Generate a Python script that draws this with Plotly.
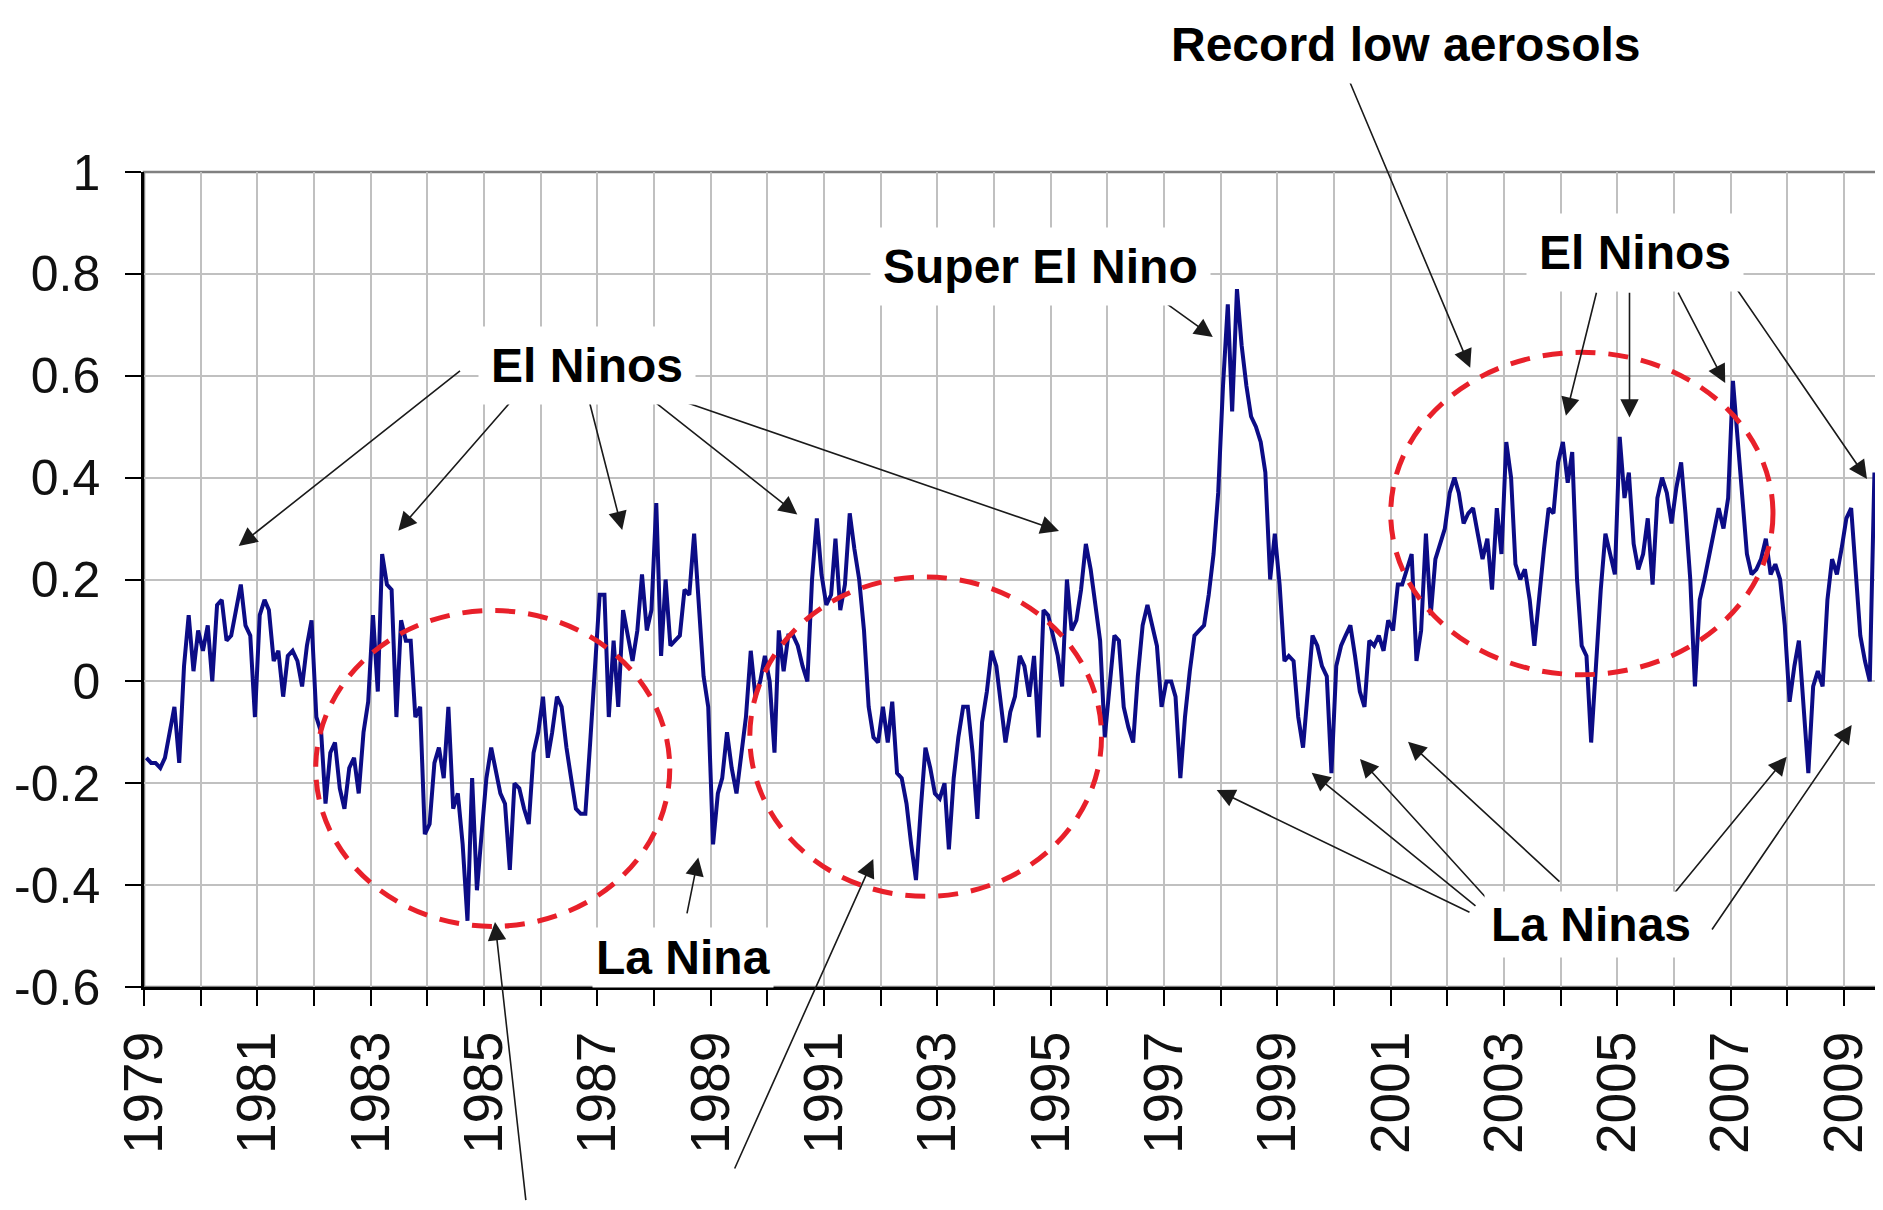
import plotly.graph_objects as go
import pandas as pd

# Monthly global lower-troposphere temperature anomalies (deg C)
y1979 = [-0.15, -0.16, -0.16, -0.17, -0.15, -0.10, -0.05, -0.16, 0.03, 0.13, 0.02, 0.10]
y1980 = [0.06, 0.11, 0.00, 0.15, 0.16, 0.08, 0.09, 0.14, 0.19, 0.11, 0.09, -0.07]
y1981 = [0.13, 0.16, 0.14, 0.04, 0.06, -0.03, 0.05, 0.06, 0.04, -0.01, 0.07, 0.12]
y1982 = [-0.07, -0.10, -0.24, -0.14, -0.12, -0.21, -0.25, -0.17, -0.15, -0.22, -0.10, -0.04]
y1983 = [0.13, -0.02, 0.25, 0.19, 0.18, -0.07, 0.12, 0.08, 0.08, -0.07, -0.05, -0.30]
y1984 = [-0.28, -0.16, -0.13, -0.19, -0.05, -0.25, -0.22, -0.32, -0.47, -0.19, -0.41, -0.30]
y1985 = [-0.19, -0.13, -0.17, -0.22, -0.24, -0.37, -0.20, -0.21, -0.25, -0.28, -0.14, -0.10]
y1986 = [-0.03, -0.15, -0.10, -0.03, -0.05, -0.13, -0.19, -0.25, -0.26, -0.26, -0.12, 0.02]
y1987 = [0.17, 0.17, -0.07, 0.08, -0.05, 0.14, 0.09, 0.04, 0.10, 0.21, 0.10, 0.14]
y1988 = [0.35, 0.05, 0.20, 0.07, 0.08, 0.09, 0.18, 0.17, 0.29, 0.15, 0.01, -0.05]
y1989 = [-0.32, -0.22, -0.19, -0.10, -0.17, -0.22, -0.15, -0.07, 0.06, -0.03, 0.00, 0.05]
y1990 = [0.00, -0.14, 0.10, 0.02, 0.09, 0.09, 0.07, 0.03, 0.00, 0.20, 0.32, 0.21]
y1991 = [0.15, 0.17, 0.28, 0.14, 0.19, 0.33, 0.26, 0.20, 0.10, -0.05, -0.11, -0.12]
y1992 = [-0.05, -0.12, -0.04, -0.18, -0.19, -0.24, -0.32, -0.39, -0.25, -0.13, -0.17, -0.22]
y1993 = [-0.23, -0.20, -0.33, -0.19, -0.11, -0.05, -0.05, -0.14, -0.27, -0.08, -0.02, 0.06]
y1994 = [0.03, -0.05, -0.12, -0.06, -0.03, 0.05, 0.03, -0.03, 0.05, -0.11, 0.14, 0.13]
y1995 = [0.09, 0.05, -0.01, 0.20, 0.10, 0.12, 0.18, 0.27, 0.22, 0.15, 0.08, -0.11]
y1996 = [0.00, 0.09, 0.08, -0.05, -0.09, -0.12, 0.01, 0.11, 0.15, 0.11, 0.07, -0.05]
y1997 = [0.00, 0.00, -0.03, -0.19, -0.07, 0.02, 0.09, 0.10, 0.11, 0.17, 0.25, 0.37]
y1998 = [0.58, 0.74, 0.53, 0.77, 0.66, 0.58, 0.52, 0.50, 0.47, 0.41, 0.20, 0.29]
y1999 = [0.19, 0.04, 0.05, 0.04, -0.07, -0.13, -0.03, 0.09, 0.07, 0.03, 0.01, -0.18]
y2000 = [0.03, 0.07, 0.09, 0.11, 0.05, -0.02, -0.05, 0.08, 0.07, 0.09, 0.06, 0.12]
y2001 = [0.10, 0.19, 0.19, 0.22, 0.25, 0.04, 0.10, 0.29, 0.13, 0.24, 0.27, 0.30]
y2002 = [0.37, 0.40, 0.37, 0.31, 0.33, 0.34, 0.29, 0.24, 0.28, 0.18, 0.34, 0.25]
y2003 = [0.47, 0.40, 0.23, 0.20, 0.22, 0.16, 0.07, 0.17, 0.26, 0.34, 0.33, 0.43]
y2004 = [0.47, 0.39, 0.45, 0.20, 0.07, 0.05, -0.12, 0.03, 0.18, 0.29, 0.25, 0.21]
y2005 = [0.48, 0.36, 0.41, 0.27, 0.22, 0.25, 0.32, 0.19, 0.36, 0.40, 0.37, 0.31]
y2006 = [0.38, 0.43, 0.33, 0.20, -0.01, 0.16, 0.20, 0.25, 0.29, 0.34, 0.30, 0.36]
y2007 = [0.59, 0.48, 0.38, 0.25, 0.21, 0.22, 0.24, 0.28, 0.21, 0.23, 0.20, 0.11]
y2008 = [-0.04, 0.03, 0.08, -0.04, -0.18, -0.01, 0.02, -0.01, 0.16, 0.24, 0.21, 0.26]
y2009 = [0.32, 0.34, 0.21, 0.09, 0.04, 0.00, 0.41]

all_years = [y1979, y1980, y1981, y1982, y1983, y1984, y1985, y1986, y1987, y1988,
             y1989, y1990, y1991, y1992, y1993, y1994, y1995, y1996, y1997, y1998,
             y1999, y2000, y2001, y2002, y2003, y2004, y2005, y2006, y2007, y2008, y2009]
values = [v for yr in all_years for v in yr]
dates = pd.date_range("1979-01-01", periods=len(values), freq="MS") + pd.Timedelta(days=15)

x_tick_labels = ["1979", "1981", "1983", "1985", "1987", "1989", "1991", "1993",
                 "1995", "1997", "1999", "2001", "2003", "2005", "2007", "2009"]
y_tick_values = [1, 0.8, 0.6, 0.4, 0.2, 0, -0.2, -0.4, -0.6]
y_tick_labels = ["1", "0.8", "0.6", "0.4", "0.2", "0", "-0.2", "-0.4", "-0.6"]

# Geometry: page body has an 8px margin, so the figure is offset by 8px
OFF = 8
W, H = 1883 - OFF, 1210 - OFF
L, T = 144 - OFF, 172 - OFF
PR, PB = 1878 - OFF, 987 - OFF
R, B = W - PR, H - PB
PW, PH = PR - L, PB - T


def px(x):
    return (x - OFF - L) / PW


def py(y):
    return (PB - (y - OFF)) / PH


FONT = "Liberation Sans, Arial, sans-serif"

fig = go.Figure()
fig.add_trace(go.Scatter(x=dates, y=values, mode="lines",
                         line=dict(color="#0C0C86", width=4), hoverinfo="skip"))

# Red dashed ellipses
circles = [("1982-01-12", "1988-04-12", -0.481, 0.139),
           ("1989-09-10", "1995-11-25", -0.422, 0.205),
           ("2001-01-01", "2007-10-01", 0.013, 0.646)]
for x0, x1, y0, y1 in circles:
    fig.add_shape(type="circle", xref="x", yref="y", x0=x0, x1=x1, y0=y0, y1=y1,
                  line=dict(color="#E8202A", width=5, dash="20px,13px"), layer="above")

# Plot border (top/right gray)
fig.add_shape(type="rect", xref="paper", yref="paper", x0=0, x1=1, y0=0, y1=1,
              line=dict(color="#808080", width=2.5), layer="below")

# Arrows: (tail_x, tail_y, head_x, head_y) in reference pixels
arrows = [
    (461.5, 369.7, 238.7, 546), (510.3, 402.3, 398.3, 530.7), (589.5, 402.3, 622.2, 529.9),
    (655, 402.3, 797.3, 514.6), (685.4, 402.3, 1059, 531),
    (1149, 291, 1212.8, 337),
    (1343.5, 67, 1470.2, 367.8),
    (1596.8, 291.2, 1565.9, 415.7), (1629.5, 291.2, 1629.5, 417.6),
    (1677.4, 291.2, 1725.2, 383), (1726.4, 274, 1867, 479),
    (686.7, 914.8, 698.3, 857.4),
    (526, 1201.7, 495, 922), (734, 1170, 873.3, 859),
    (1471, 913, 1216.7, 790), (1477, 907, 1311.7, 772.7), (1489, 901, 1360, 759),
    (1561, 883, 1408, 741.7), (1663, 907, 1786.7, 756.7), (1711, 931, 1851.7, 725),
]
annotations = []
for tx, ty, hx, hy in arrows:
    annotations.append(dict(x=px(hx), y=py(hy), xref="paper", yref="paper",
                            ax=tx - hx, ay=ty - hy, axref="pixel", ayref="pixel",
                            text="", showarrow=True, arrowhead=2, arrowsize=2.3,
                            arrowwidth=1.6, arrowcolor="#1a1a1a", standoff=0))

labels = [("Record low aerosols", 1405, 44, 12), ("Super El Nino", 1040, 266, 12),
          ("El Ninos", 587, 365, 12), ("El Ninos", 1635, 252, 12),
          ("La Nina", 683, 957, 3), ("La Ninas", 1591, 924, 6)]
for txt, cx, cy, pad in labels:
    annotations.append(dict(x=px(cx), y=py(cy), xref="paper", yref="paper",
                            text="<b>" + txt + "</b>", showarrow=False,
                            xanchor="center", yanchor="middle", bgcolor="white",
                            borderpad=pad,
                            font=dict(family=FONT, size=48, color="black")))

fig.update_layout(
    width=W, height=H,
    margin=dict(l=L, r=R, t=T, b=B, pad=0, autoexpand=False),
    paper_bgcolor="white", plot_bgcolor="white",
    showlegend=False,
    annotations=annotations,
    xaxis=dict(
        type="date", range=["1979-01-01", "2009-08-08"],
        tickmode="array",
        tickvals=[pd.Timestamp(int(s), 1, 1) for s in x_tick_labels],
        ticktext=x_tick_labels, tickangle=-90,
        ticks="outside", ticklen=16, tickwidth=1.5, tickcolor="black",
        ticklabelstandoff=4,
        tickfont=dict(family=FONT, size=55, color="#111111"),
        showgrid=True, gridcolor="#C0C0C0", gridwidth=1.8,
        minor=dict(dtick="M12", tick0="1979-01-01", ticks="outside", ticklen=16,
                   tickwidth=1.5, tickcolor="black", showgrid=True,
                   gridcolor="#C0C0C0", gridwidth=1.8),
        showline=True, linecolor="black", linewidth=2.5,
        zeroline=False, fixedrange=True, automargin=False,
    ),
    yaxis=dict(
        range=[-0.6, 1], tickmode="array", tickvals=y_tick_values, ticktext=y_tick_labels,
        ticks="outside", ticklen=16, tickwidth=1.5, tickcolor="black",
        ticklabelstandoff=15,
        tickfont=dict(family=FONT, size=50, color="#111111"),
        showgrid=True, gridcolor="#C0C0C0", gridwidth=1.8,
        showline=True, linecolor="black", linewidth=2.5,
        zeroline=False, fixedrange=True, automargin=False,
    ),
)

fig.write_html("out.html")
